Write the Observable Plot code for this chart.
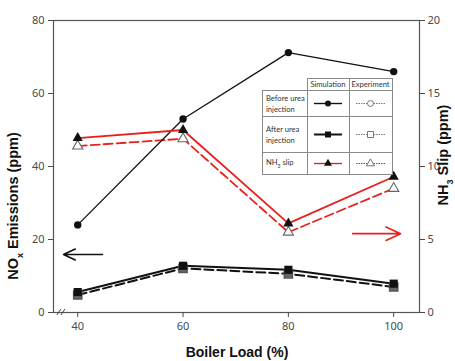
<!DOCTYPE html>
<html><head><meta charset="utf-8">
<script src="https://cdn.jsdelivr.net/npm/d3@7"></script>
<script src="https://cdn.jsdelivr.net/npm/@observablehq/plot@0.6"></script>
<style>
body{margin:0;background:#fff;}
#wrap{position:relative;width:455px;height:361px;overflow:hidden;}
#legend{position:absolute;left:262px;top:78px;width:127px;table-layout:fixed;border-collapse:collapse;background:#fff;
  font-family:Lato,"Open Sans",sans-serif;font-size:7.6px;color:#333;line-height:1.45;}
#legend td{border:1px solid #8a8a8a;padding:0;vertical-align:middle;white-space:nowrap;overflow:hidden;}
#legend td.blank{border-top:none;border-left:none;background:transparent;}
#legend td.lab{padding-left:3px;text-align:left;}
#legend td.hd{text-align:center;height:10px;}
#legend svg{display:block;}
</style></head><body><div id="wrap"></div>
<script>
const loads = [40, 60, 80, 100];
const beforeSim = [24, 53, 71.2, 66];
const afterSim = [5.6, 12.8, 11.7, 7.9];
const afterExp = [4.8, 12.1, 10.6, 7.0];
const nh3Sim = [11.95, 12.5, 6.1, 9.3];
const nh3Exp = [11.4, 11.9, 5.5, 8.5];
const leftTicks = [0, 20, 40, 60, 80];
const rightTicks = [0, 5, 10, 15, 20];
const xTicks = [40, 60, 80, 100];
const ratio = 4; // NH3 axis (0–20) mapped onto NOx axis (0–80)
const arrowX1 = [44.7, 92.2];
const arrowX2 = [37.3, 101.3];
const arrowY = [15.9, 21.6];
const arrowColors = ["#111", "#e8201c"];
const legendRows = ["Before urea injection", "After urea injection", "NH₃ slip"];
const legendCols = ["Simulation", "Experiment"];

const RED = "#e8201c";
const rows = (vals, scale = 1) => loads.map((x, i) => ({x, y: vals[i] * scale}));
const arrows = arrowX1.map((x1, i) => ({x1, x2: arrowX2[i], y: arrowY[i], c: arrowColors[i]}));

const plot = Plot.plot({
  width: 455, height: 361,
  marginLeft: 53, marginRight: 36, marginTop: 20, marginBottom: 49,
  style: {fontFamily: "'Noto Sans', sans-serif", fontSize: "11px", color: "#4a4a4a", background: "#fff"},
  x: {domain: [35.4, 104.9]},
  y: {domain: [0, 80]},
  marks: [
    Plot.frame({stroke: "#555", strokeWidth: 1.2}),
    Plot.axisX({ticks: xTicks, tickSize: 5, tickPadding: 5, label: null, tickFormat: d => d}),
    Plot.axisY({ticks: leftTicks, anchor: "left", tickSize: 5, tickPadding: 4, label: null}),
    Plot.axisY({ticks: leftTicks, anchor: "right", tickSize: 5, tickPadding: 3, label: null,
      tickFormat: (d, i) => rightTicks[i]}),
    Plot.line(rows(afterExp), {x: "x", y: "y", stroke: "#111", strokeWidth: 2, strokeDasharray: "9,4"}),
    Plot.line(rows(nh3Exp, ratio), {x: "x", y: "y", stroke: RED, strokeWidth: 1.8, strokeDasharray: "9,4"}),
    Plot.line(rows(beforeSim), {x: "x", y: "y", stroke: "#111", strokeWidth: 1.3}),
    Plot.line(rows(afterSim), {x: "x", y: "y", stroke: "#111", strokeWidth: 2}),
    Plot.line(rows(nh3Sim, ratio), {x: "x", y: "y", stroke: RED, strokeWidth: 1.8}),
    Plot.dot(rows(afterExp), {x: "x", y: "y", symbol: "square", r: 4.6, fill: "#666", stroke: "#555"}),
    Plot.dot(rows(nh3Exp, ratio), {x: "x", y: "y", symbol: "triangle", r: 3.8, fill: "#fff", stroke: "#666", strokeWidth: 1.1}),
    Plot.dot(rows(beforeSim), {x: "x", y: "y", symbol: "circle", r: 3.7, fill: "#111"}),
    Plot.dot(rows(afterSim), {x: "x", y: "y", symbol: "square", r: 4.6, fill: "#111"}),
    Plot.dot(rows(nh3Sim, ratio), {x: "x", y: "y", symbol: "triangle", r: 3.8, fill: "#111"}),
    Plot.arrow(arrows, {x1: "x1", x2: "x2", y1: "y", y2: "y", stroke: "c", strokeWidth: 1.6, headLength: 16, headAngle: 50, inset: 0})
  ]
});
document.getElementById("wrap").appendChild(plot);

// axis titles with subscripts, axis break marks
const svg = d3.select(plot);
const xs = plot.scale("x"), ys = plot.scale("y");
const titleFont = "'Liberation Sans', Arial, sans-serif";
function subTitle(x, y, rot, parts) {
  const t = svg.append("text").attr("transform", `translate(${x},${y}) rotate(${rot})`)
    .attr("text-anchor", "middle").attr("font-family", titleFont).attr("font-weight", "bold")
    .attr("font-size", 14.5).attr("fill", "#111");
  parts.forEach(([s, sub]) => {
    const sp = t.append("tspan").text(s);
    if (sub) sp.attr("font-size", 9).attr("baseline-shift", "sub");
  });
}
subTitle(18, 206, -90, [["NO"], ["x", true], [" Emissions (ppm)"]]);
subTitle(448, 155, -90, [["NH"], ["3", true], [" Slip (ppm)"]]);
svg.append("text").attr("x", 237).attr("y", 357).attr("text-anchor", "middle")
  .attr("font-family", "'Liberation Sans Narrow', 'Liberation Sans', sans-serif").attr("font-weight", "bold")
  .attr("font-size", 14).attr("fill", "#111").text("Boiler Load (%)");
const bx = xs.apply(36.9), by = ys.apply(0);
[-2, 2].forEach(dx => svg.append("line")
  .attr("x1", bx + dx - 2).attr("y1", by + 3).attr("x2", bx + dx + 2).attr("y2", by - 3)
  .attr("stroke", "#444").attr("stroke-width", 1));

// legend table
const tbl = d3.select("#wrap").append("table").attr("id", "legend");
const hr = tbl.append("tr");
hr.append("td").attr("class", "blank").style("width", "44px");
legendCols.forEach((c, i) => hr.append("td").attr("class", "hd").style("width", i ? "42px" : "41px").text(c));
const rowH = [25, 35, 21];
const labelsHtml = ["Before urea<br>injection", "After urea<br>injection", "NH<sub style='font-size:5px'>3</sub> slip"];
legendRows.forEach((name, r) => {
  const tr = tbl.append("tr").style("height", rowH[r] + "px");
  tr.append("td").attr("class", "lab").attr("title", name).html(labelsHtml[r]);
  legendCols.forEach((c, k) => {
    const w = k ? 41 : 40, h = rowH[r];
    const s = tr.append("td").append("svg").attr("width", w).attr("height", h);
    const lc = r === 2 ? RED : (k ? "#777" : "#111");
    s.append("line").attr("x1", 6).attr("x2", w - 6).attr("y1", h / 2).attr("y2", h / 2)
      .attr("stroke", lc).attr("stroke-width", k ? 1 : (r === 1 ? 2 : 1.4))
      .attr("stroke-dasharray", k ? "1.5,1" : null);
    const sym = d3.symbol(r === 0 ? d3.symbolCircle : r === 1 ? d3.symbolSquare : d3.symbolTriangle,
      r === 0 ? 28 : r === 1 ? 36 : 28);
    s.append("path").attr("d", sym()).attr("transform", `translate(${w / 2},${h / 2})`)
      .attr("fill", k ? "#fff" : "#111").attr("stroke", k ? "#555" : "none").attr("stroke-width", 0.8);
  });
});
</script></body></html>
